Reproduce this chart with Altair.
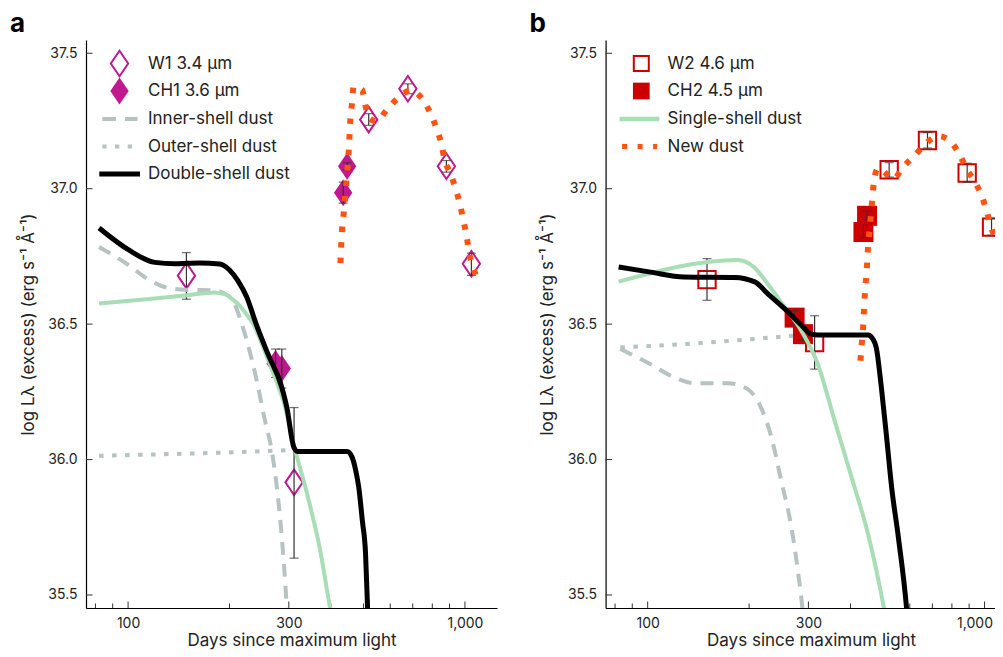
import altair as alt
import pandas as pd

# ---------------- data ----------------
# Panel a photometry
w1_days = [149, 311, 518, 677, 881, 1045]
w1_logl = [36.679, 35.916, 37.255, 37.369, 37.083, 36.723]
w1_low = [36.592, 35.636, 37.234, 37.351, 37.061, 36.680]
w1_high = [36.764, 36.192, 37.277, 37.387, 37.104, 36.762]

ch1_days = [274, 286, 435, 447]
ch1_logl = [36.355, 36.336, 36.985, 37.083]
ch1_low = [36.303, 36.264, 36.947, 37.070]
ch1_high = [36.408, 36.408, 37.024, 37.096]

# Panel a model curves
inner_a_days = [82, 99, 116, 130, 149, 179, 198, 207, 215, 225, 241, 255, 267, 276.5, 286, 296, 302]
inner_a_logl = [36.785, 36.723, 36.662, 36.635, 36.627, 36.625, 36.605, 36.575, 36.52, 36.44,
                36.291, 36.143, 36.033, 35.897, 35.712, 35.45, 35.25]
outer_a_days = [82, 150, 220, 303]
outer_a_logl = [36.014, 36.022, 36.028, 36.035]
double_a_days = [82, 101, 120, 138, 163, 187, 200, 212, 225, 240, 260, 286, 296, 310, 318,
                 447, 462, 474, 484, 496, 507, 514, 520]
double_a_logl = [36.855, 36.772, 36.728, 36.723, 36.726, 36.722, 36.70, 36.66, 36.60, 36.50,
                 36.39, 36.266, 36.192, 36.048, 36.03, 36.03, 36.01, 35.96, 35.897, 35.774,
                 35.651, 35.45, 35.25]
single_a_days = [82, 120, 150, 180, 195, 205, 215, 225, 235.5, 252, 267, 280, 289, 310, 340, 372, 398, 420]
single_a_logl = [36.576, 36.595, 36.607, 36.617, 36.61, 36.59, 36.567, 36.535, 36.5, 36.414,
                 36.334, 36.266, 36.217, 36.057, 35.873, 35.663, 35.45, 35.3]
new_a_days = [427, 431.5, 436.5, 444.6, 452, 457, 462.5, 467, 495, 506, 518, 546, 585, 632, 693,
              750, 791, 824, 851, 870, 907, 938, 967, 989, 1012, 1028, 1057, 1094]
new_a_logl = [36.725, 36.846, 36.908, 37.024, 37.141, 37.258, 37.32, 37.377, 37.365, 37.31,
              37.262, 37.249, 37.29, 37.334, 37.363, 37.328, 37.277, 37.221, 37.166, 37.108,
              37.055, 37.0, 36.942, 36.883, 36.824, 36.766, 36.711, 36.659]

# Panel b photometry
w2_days = [150, 313, 521, 677, 888, 1049]
w2_logl = [36.664, 36.432, 37.070, 37.178, 37.058, 36.858]
w2_low = [36.588, 36.334, 37.043, 37.150, 37.024, 36.828]
w2_high = [36.742, 36.531, 37.096, 37.207, 37.094, 36.891]

ch2_days = [273, 289, 437, 448]
ch2_logl = [36.524, 36.463, 36.840, 36.900]
ch2_low = [36.500, 36.440, 36.819, 36.886]
ch2_high = [36.549, 36.490, 36.865, 36.917]

# Panel b model curves
inner_b_days = [83, 102, 120, 138, 173, 198, 217, 233, 249, 267, 279, 288, 295]
inner_b_logl = [36.408, 36.352, 36.303, 36.282, 36.282, 36.26, 36.192, 36.082, 35.923,
                35.751, 35.591, 35.45, 35.3]
outer_b_days = [83, 150, 210, 270]
outer_b_logl = [36.414, 36.432, 36.446, 36.457]
double_b_days = [82, 102, 128, 181, 208, 227, 255, 286, 306, 320, 451, 466, 477, 494, 512,
                 530, 555, 587, 600]
double_b_logl = [36.711, 36.692, 36.674, 36.672, 36.656, 36.613, 36.557, 36.496, 36.463,
                 36.46, 36.46, 36.445, 36.414, 36.266, 36.082, 35.897, 35.712, 35.45, 35.3]
single_b_days = [82, 185, 207, 227, 255, 286, 320, 359, 403, 451, 503, 520]
single_b_logl = [36.657, 36.737, 36.71, 36.649, 36.563, 36.475, 36.352, 36.143, 35.934,
                 35.725, 35.45, 35.35]
new_b_days = [428, 432, 436, 441, 447, 451, 456, 462, 467, 473, 483, 511, 535, 573, 621, 668,
              731, 801, 850, 888, 940, 986, 1018, 1049, 1099, 1160]
new_b_logl = [36.365, 36.426, 36.488, 36.606, 36.70, 36.785, 36.85, 36.93, 37.0, 37.05,
              37.075, 37.055, 37.035, 37.08, 37.123, 37.166, 37.194, 37.168, 37.117, 37.07,
              37.021, 36.966, 36.911, 36.852, 36.803, 36.74]

# Axes
x_major = [100, 300, 1000]
x_minor = [80, 90, 200, 400, 500, 600, 700, 800, 900]
y_ticks = [35.5, 36.0, 36.5, 37.0, 37.5]
x_domain = [75, 1245]
y_domain = [35.452, 37.549]

legend_a_labels = ["W1 3.4 μm", "CH1 3.6 μm", "Inner-shell dust", "Outer-shell dust", "Double-shell dust"]
legend_b_labels = ["W2 4.6 μm", "CH2 4.5 μm", "Single-shell dust", "New dust"]
panel_letters = ["a", "b"]

# ---------------- styling ----------------
W, H = 411, 568
FONT = "Inter"
MAG = "#C2188E"
RED = "#CC0000"
ORANGE = "#FF5314"
GREEN = "#A8DDB5"
GRAY = "#B7C2C2"
BLACK = "#000000"
EB = "#333333"
TXT = "#222222"
DIAMOND = "M0,-1L0.68,0L0,1L-0.68,0Z"
LEG_Y = [23.5, 51, 79, 106.5, 134]
LEG_TXT_X = 62

xs = alt.Scale(type="log", domain=x_domain, nice=False)
ys = alt.Scale(domain=y_domain, nice=False, zero=False)


def x_axis(last_shift=0):
    kw = dict(values=x_major, format=",d", title="Days since maximum light",
              labelPadding=8, titleY=37, titleBaseline="alphabetic",
              ticks=False, tickSize=0, grid=False)
    if last_shift:
        # keep the last label inside the (cropped) canvas
        kw["labelOffset"] = {"condition": {"test": "datum.value == 1000", "value": last_shift}, "value": 0}
    return alt.Axis(**kw)


xax_a = x_axis()
xax_b = x_axis(-10)
yax = alt.Axis(values=y_ticks, format=".1f", title="log Lλ (excess) (erg s⁻¹ Å⁻¹)",
               labelPadding=9, titleX=-53, titleBaseline="alphabetic",
               ticks=False, tickSize=0, grid=False)


def make_panel(xax, photometry, curves, letter_text, legend):
    def X(f="day"):
        return alt.X(f"{f}:Q", scale=xs, axis=xax)

    def Y(f="logl"):
        return alt.Y(f"{f}:Q", scale=ys, axis=yax)

    def frame(days, vals):
        return pd.DataFrame({"day": days, "logl": vals})

    def point_mark(shape, size, color, filled):
        if filled:
            return dict(shape=shape, size=size, filled=True, color=color, opacity=1, strokeWidth=0)
        return dict(shape=shape, size=size, filled=False, color=color, opacity=1, strokeWidth=2)

    layers = []
    # axis ticks drawn inward
    layers.append(alt.Chart(pd.DataFrame({"day": x_major})).mark_rule(color=EB, strokeWidth=1).encode(
        x=X(), y=alt.value(H), y2=alt.value(H - 6.5)))
    layers.append(alt.Chart(pd.DataFrame({"day": x_minor})).mark_rule(color=EB, strokeWidth=1).encode(
        x=X(), y=alt.value(H), y2=alt.value(H - 4.5)))
    layers.append(alt.Chart(pd.DataFrame({"logl": y_ticks})).mark_rule(color=EB, strokeWidth=1).encode(
        y=Y(), x=alt.value(0), x2=alt.value(6.5)))

    # photometry points, then error bars
    for days, vals, lo, hi, shape, size, color, filled in photometry:
        layers.append(alt.Chart(frame(days, vals)).mark_point(**point_mark(shape, size, color, filled)).encode(
            x=X(), y=Y()))
    for days, vals, lo, hi, shape, size, color, filled in photometry:
        d = pd.DataFrame({"day": days, "lo": lo, "hi": hi})
        base = alt.Chart(d)
        layers.append(base.mark_rule(color=EB, strokeWidth=1.2).encode(x=X(), y=Y("lo"), y2="hi:Q"))
        layers.append(base.mark_tick(orient="horizontal", color=EB, size=9, thickness=1.2).encode(x=X(), y=Y("lo")))
        layers.append(base.mark_tick(orient="horizontal", color=EB, size=9, thickness=1.2).encode(x=X(), y=Y("hi")))

    # model curves
    for days, vals, color, width, dash in curves:
        kw = dict(color=color, strokeWidth=width, interpolate="monotone", clip=True, strokeCap="butt")
        if dash:
            kw["strokeDash"] = dash
        layers.append(alt.Chart(frame(days, vals)).mark_line(**kw).encode(x=X(), y=Y()))

    # panel letter
    layers.append(alt.Chart(pd.DataFrame({"t": [letter_text]})).mark_text(
        align="left", baseline="alphabetic", font=FONT, fontSize=26, fontWeight="bold", color=BLACK
    ).encode(text="t:N", x=alt.value(-76), y=alt.value(-8.3)))

    # legend
    for row, (label, kind, spec) in enumerate(legend):
        one = pd.DataFrame({"t": [label]})
        if kind == "point":
            sx, shape, size, color, filled = spec
            layers.append(alt.Chart(one).mark_point(**point_mark(shape, size, color, filled)).encode(
                x=alt.value(sx), y=alt.value(LEG_Y[row])))
        else:
            x1, x2, color, width, dash = spec
            kw = dict(color=color, strokeWidth=width, strokeCap="butt")
            if dash:
                kw["strokeDash"] = dash
            layers.append(alt.Chart(one).mark_rule(**kw).encode(
                x=alt.value(x1), x2=alt.value(x2), y=alt.value(LEG_Y[row])))
        layers.append(alt.Chart(one).mark_text(
            align="left", baseline="middle", font=FONT, fontSize=17, color=TXT
        ).encode(text="t:N", x=alt.value(LEG_TXT_X), y=alt.value(LEG_Y[row])))

    return alt.layer(*layers).properties(width=W, height=H)


panel_a = make_panel(
    xax_a,
    [
        (w1_days, w1_logl, w1_low, w1_high, DIAMOND, 650, MAG, False),
        (ch1_days, ch1_logl, ch1_low, ch1_high, DIAMOND, 729, MAG, True),
    ],
    [
        (outer_a_days, outer_a_logl, GRAY, 4, [4.5, 8.5]),
        (inner_a_days, inner_a_logl, GRAY, 4, [13, 9]),
        (single_a_days, single_a_logl, GREEN, 4, None),
        (double_a_days, double_a_logl, BLACK, 5, None),
        (new_a_days, new_a_logl, ORANGE, 6, [5.5, 10]),
    ],
    panel_letters[0],
    [
        (legend_a_labels[0], "point", (33.5, DIAMOND, 650, MAG, False)),
        (legend_a_labels[1], "point", (33.5, DIAMOND, 729, MAG, True)),
        (legend_a_labels[2], "line", (16.3, 51.5, GRAY, 4, [13.7, 9])),
        (legend_a_labels[3], "line", (16.3, 46.3, GRAY, 4, [4.3, 8.4])),
        (legend_a_labels[4], "line", (13.3, 54, BLACK, 5, None)),
    ],
)

panel_b = make_panel(
    xax_b,
    [
        (w2_days, w2_logl, w2_low, w2_high, "square", 300, RED, False),
        (ch2_days, ch2_logl, ch2_low, ch2_high, "square", 400, RED, True),
    ],
    [
        (outer_b_days, outer_b_logl, GRAY, 4, [4.5, 8.5]),
        (inner_b_days, inner_b_logl, GRAY, 4, [13, 9]),
        (single_b_days, single_b_logl, GREEN, 4, None),
        (double_b_days, double_b_logl, BLACK, 5, None),
        (new_b_days, new_b_logl, ORANGE, 6, [5.5, 10]),
    ],
    panel_letters[1],
    [
        (legend_b_labels[0], "point", (35.7, "square", 225, RED, False)),
        (legend_b_labels[1], "point", (35.7, "square", 280, RED, True)),
        (legend_b_labels[2], "line", (14, 53.7, GREEN, 4.5, None)),
        (legend_b_labels[3], "line", (16.5, 51.5, ORANGE, 5, [5, 10.5])),
    ],
)

# Fixed page geometry: plot a starts at (86, 40); the 987x641 canvas fits the
# window (with the page margins) and crops panel b at its right edge.
chart = alt.hconcat(panel_a, panel_b, spacing=108.6, bounds="flush").properties(
    autosize=alt.AutoSizeParams(type="none"),
    padding={"left": 78, "top": 32, "right": 909, "bottom": 609},
    background="white",
).configure_view(stroke=None).configure_axis(
    domainColor=BLACK, domainWidth=1.2,
    labelFont=FONT, labelFontSize=14, labelColor=TXT,
    titleFont=FONT, titleFontSize=17, titleFontWeight="normal", titleColor=TXT,
)

chart.save("out.html", embed_options={"renderer": "svg", "actions": False})
